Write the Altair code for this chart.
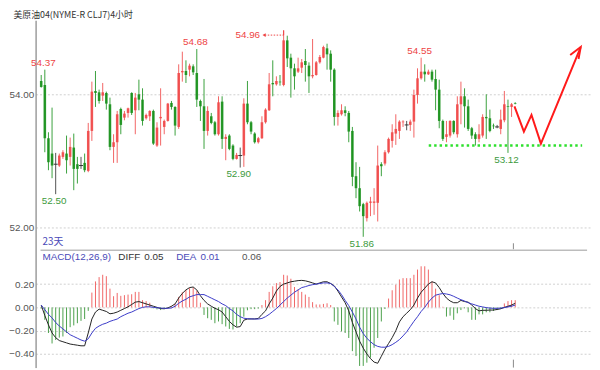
import altair as alt
import pandas as pd

# ---------------- data ----------------
opens = [54.20, 54.14, 53.34, 53.11, 52.95, 52.93, 53.06, 53.11, 53.06, 53.20,
         52.95, 52.93, 52.97, 52.85, 53.45, 54.05, 54.03, 53.98, 54.02, 53.85,
         53.21, 53.28, 53.78, 53.65, 53.72, 54.02, 53.76, 54.00, 53.92, 53.64,
         53.67, 53.75, 53.23, 53.64, 53.51, 53.60, 53.87, 53.81, 53.51, 54.33,
         54.35, 54.37, 54.42, 54.32, 53.90, 53.82, 53.45, 53.67, 53.58, 53.40,
         53.89, 53.33, 53.38, 53.23, 53.03, 53.08, 53.08, 53.86, 53.58, 53.41,
         53.28, 53.34, 53.58, 53.76, 54.17, 54.15, 54.19, 54.14, 54.81, 54.55,
         54.39, 54.34, 54.40, 54.50, 54.43, 54.27, 54.29, 54.48, 54.55, 54.69,
         54.61, 54.37, 53.66, 53.70, 53.76, 53.72, 53.45, 52.77, 52.59, 52.35,
         52.14, 52.37, 52.37, 52.37, 52.95, 52.96, 53.13, 53.30, 53.41, 53.45,
         53.58, 53.54, 53.54, 53.59, 53.99, 54.24, 54.34, 54.30, 54.34, 54.23,
         54.07, 53.60, 53.36, 53.38, 53.60, 53.40, 53.85, 53.97, 53.82, 53.49,
         53.40, 53.33, 53.38, 53.66, 53.64, 53.53, 53.51, 53.48, 53.61, 53.82,
         53.81, 53.87]
highs = [54.29, 54.37, 53.43, 53.80, 53.12, 53.11, 53.16, 53.38, 53.35, 53.41,
         53.06, 53.06, 53.11, 53.57, 54.19, 54.35, 54.07, 54.17, 54.04, 53.95,
         53.40, 53.75, 53.80, 53.75, 53.80, 54.03, 54.02, 54.22, 54.09, 53.71,
         53.76, 53.77, 53.58, 54.09, 53.62, 53.87, 53.90, 53.82, 54.45, 54.64,
         54.51, 54.46, 54.45, 54.68, 53.92, 54.23, 53.82, 53.72, 53.60, 53.97,
         53.97, 53.40, 53.40, 53.25, 53.12, 53.20, 53.94, 54.20, 53.60, 53.43,
         53.36, 53.67, 53.79, 54.32, 54.51, 54.27, 54.29, 54.96, 54.88, 54.61,
         54.46, 54.55, 54.53, 54.68, 54.48, 54.83, 54.50, 54.59, 54.73, 54.76,
         54.66, 54.39, 53.76, 53.85, 53.82, 53.75, 53.51, 52.98, 52.91, 52.37,
         52.39, 52.46, 52.59, 53.23, 52.98, 53.16, 53.35, 53.55, 53.70, 53.61,
         53.61, 53.60, 53.62, 54.07, 54.39, 54.55, 54.45, 54.37, 54.37, 54.37,
         54.22, 53.62, 53.60, 53.61, 53.61, 53.97, 54.19, 54.09, 53.92, 53.51,
         53.43, 53.55, 53.70, 54.00, 53.77, 53.56, 53.54, 53.77, 54.05, 53.92,
         53.87, 53.88]
lows = [54.10, 53.13, 52.86, 52.74, 52.50, 52.91, 53.03, 52.81, 52.93, 52.56,
        52.66, 52.88, 52.83, 52.83, 53.30, 53.81, 53.86, 53.90, 53.77, 53.16,
        52.97, 52.97, 53.40, 53.61, 53.65, 53.69, 53.40, 53.76, 53.53, 53.62,
        53.60, 53.24, 53.21, 53.23, 53.40, 53.59, 53.77, 53.38, 53.48, 54.19,
        54.17, 54.27, 54.29, 53.81, 53.60, 53.18, 53.38, 53.55, 53.38, 53.38,
        53.18, 53.01, 53.16, 53.01, 53.02, 52.90, 52.91, 53.55, 53.40, 53.26,
        53.26, 53.33, 53.56, 53.75, 53.97, 54.13, 54.13, 54.12, 54.41, 53.95,
        54.07, 54.32, 54.32, 54.19, 54.02, 54.24, 54.28, 54.46, 54.54, 54.37,
        54.19, 53.53, 53.53, 53.68, 53.67, 53.28, 52.62, 52.44, 52.24, 51.86,
        52.09, 52.17, 52.19, 52.09, 52.77, 52.93, 53.11, 53.20, 53.24, 53.33,
        53.51, 53.46, 53.45, 53.35, 53.86, 54.22, 54.19, 54.29, 54.19, 53.76,
        53.49, 53.30, 53.28, 53.35, 53.40, 53.35, 53.55, 53.50, 53.45, 53.33,
        53.23, 53.28, 53.35, 53.33, 53.43, 53.48, 53.49, 53.40, 53.58, 53.12,
        53.66, 53.85]
closes = [54.11, 53.34, 52.98, 52.93, 52.95, 53.08, 53.13, 53.01, 53.21, 52.88,
          52.88, 52.93, 52.86, 53.45, 54.04, 54.02, 53.90, 54.03, 53.86, 53.21,
          53.28, 53.70, 53.54, 53.71, 53.79, 53.72, 53.95, 53.92, 53.60, 53.69,
          53.75, 53.26, 53.50, 53.66, 53.60, 53.86, 53.81, 53.53, 54.32, 54.35,
          54.29, 54.43, 54.33, 53.92, 53.82, 53.45, 53.75, 53.57, 53.40, 53.88,
          53.33, 53.36, 53.18, 53.03, 53.09, 53.08, 53.86, 53.58, 53.44, 53.28,
          53.34, 53.58, 53.77, 54.15, 54.15, 54.20, 54.18, 54.81, 54.54, 54.39,
          54.27, 54.39, 54.48, 54.44, 54.27, 54.29, 54.48, 54.56, 54.71, 54.60,
          54.37, 53.66, 53.72, 53.76, 53.72, 53.44, 52.76, 52.59, 52.32, 52.17,
          52.37, 52.39, 52.39, 52.93, 52.92, 53.13, 53.33, 53.43, 53.48, 53.59,
          53.59, 53.54, 53.59, 53.99, 54.24, 54.34, 54.30, 54.34, 54.22, 54.07,
          53.60, 53.33, 53.40, 53.60, 53.43, 53.85, 53.97, 53.82, 53.48, 53.38,
          53.33, 53.40, 53.66, 53.64, 53.45, 53.52, 53.51, 53.62, 53.85, 53.81,
          53.85, 53.86]

macd_hist = [-0.01, -0.107, -0.22, -0.31, -0.28, -0.26, -0.25, -0.22, -0.17, -0.155,
             -0.136, -0.116, -0.10, -0.03, 0.127, 0.223, 0.26, 0.28, 0.268, 0.161,
             0.096, 0.124, 0.099, 0.105, 0.11, 0.113, 0.133, 0.133, 0.062, 0.054,
             0.04, -0.008, -0.017, -0.023, -0.014, -0.003, 0.01, 0.03, 0.09, 0.13,
             0.15, 0.165, 0.17, 0.14, 0.04, -0.065, -0.093, -0.107, -0.136, -0.121,
             -0.144, -0.164, -0.185, -0.19, -0.165, -0.136, -0.08, -0.025, -0.015, -0.015,
             -0.01, 0.02, 0.062, 0.133, 0.181, 0.209, 0.218, 0.28, 0.274, 0.246,
             0.175, 0.155, 0.133, 0.11,
             0.09, 0.045, 0.025, 0.025, 0.03, 0.035, 0.02,
             -0.121, -0.15, -0.206, -0.22, -0.263, -0.376, -0.418, -0.503, -0.503, -0.475,
             -0.432, -0.347, -0.263, -0.121, -0.014, 0.076, 0.147, 0.195, 0.24, 0.251,
             0.251, 0.251, 0.28, 0.325, 0.353, 0.353, 0.325, 0.223, 0.161, 0.105,
             0.005, -0.079, -0.071, -0.107, -0.051, -0.023, -0.008, -0.042, -0.107, -0.107,
             -0.06, -0.06, -0.042, -0.042, -0.031, -0.023, -0.014, 0.034, 0.054, 0.062, 0.062]
diff_line = [0.02, -0.07, -0.15, -0.22, -0.26, -0.285, -0.295, -0.305, -0.315, -0.32,
             -0.325, -0.33, -0.33, -0.22, -0.1, -0.04, -0.015, -0.025, -0.035, -0.055,
             -0.05, -0.04, -0.025, -0.01, 0.005, 0.025, 0.045, 0.05, 0.04, 0.03,
             0.02, 0.01, 0.0, -0.01, -0.012, -0.005, 0.01, 0.03, 0.08, 0.12,
             0.15, 0.17, 0.175, 0.15, 0.1, 0.06, 0.03, 0.01, -0.008, -0.02,
             -0.04, -0.08, -0.12, -0.15, -0.17, -0.165, -0.11, -0.1, -0.099, -0.099,
             -0.095, -0.06, -0.03, 0.03, 0.08, 0.14, 0.18, 0.2, 0.21, 0.22,
             0.225, 0.23, 0.232, 0.228,
             0.22, 0.21, 0.2, 0.21, 0.22, 0.22, 0.205,
             0.185, 0.14, 0.09, 0.04, -0.03, -0.13, -0.21, -0.29, -0.35, -0.4,
             -0.44, -0.47, -0.48, -0.42, -0.36, -0.31, -0.26, -0.2, -0.125, -0.08,
             -0.05, -0.02, 0.02, 0.08, 0.13, 0.165, 0.2, 0.22, 0.21, 0.17,
             0.12, 0.08, 0.055, 0.04, 0.04, 0.06, 0.05, 0.045, 0.02, -0.01,
             -0.03, -0.025, -0.025, -0.023, -0.023, -0.018, -0.012, 0.0, 0.01, 0.02, 0.035]
dea_line = [0.02, -0.02, -0.06, -0.09, -0.13, -0.16, -0.185, -0.21, -0.235, -0.25,
            -0.265, -0.28, -0.29, -0.27, -0.22, -0.18, -0.16, -0.145, -0.135, -0.12,
            -0.11, -0.1, -0.08, -0.065, -0.05, -0.04, -0.025, -0.01, 0.0, 0.005,
            0.005, 0.0, -0.003, -0.006, -0.008, -0.008, -0.005, 0.01, 0.035, 0.055,
            0.07, 0.09, 0.1, 0.11, 0.11, 0.11, 0.095, 0.08, 0.065, 0.05,
            0.03, 0.015, -0.01, -0.03, -0.06, -0.08, -0.093, -0.097, -0.099, -0.1,
            -0.1, -0.095, -0.08, -0.06, -0.035, -0.01, 0.02, 0.05, 0.08, 0.105,
            0.13, 0.15, 0.17, 0.178,
            0.188, 0.195, 0.2, 0.205, 0.21, 0.21, 0.205,
            0.18, 0.15, 0.11, 0.06, 0.015, -0.04, -0.1, -0.17, -0.225, -0.265,
            -0.295, -0.32, -0.335, -0.342, -0.342, -0.335, -0.32, -0.3, -0.277, -0.245,
            -0.21, -0.165, -0.12, -0.08, -0.035, 0.0, 0.045, 0.08, 0.105, 0.113,
            0.119, 0.115, 0.108, 0.095, 0.08, 0.066, 0.055, 0.04, 0.03, 0.02,
            0.01, 0.004, -0.002, -0.006, -0.008, -0.008, -0.006, -0.002, 0.004, 0.01, 0.02]

# price labels: (text, candle index, price, high/low)
label_text = ["54.37", "54.68", "54.55", "52.50", "52.90", "51.86", "53.12"]
label_idx = [1, 43, 105, 4, 55, 89, 129]
label_price = [54.37, 54.68, 54.55, 52.50, 52.90, 51.86, 53.12]
label_kind = ["hi", "hi", "hi", "lo", "lo", "lo", "lo"]

# hand-drawn forecast path (index, price)
path_idx = [130.8, 133.4, 135.5, 138.1, 149.1]
path_price = [53.82, 53.44, 53.69, 53.26, 54.71]
head_idx = [146.2, 149.1, 148.5]
head_price = [54.59, 54.71, 54.53]
support_idx = [107.1, 149.5]
support_price = [53.23, 53.23]

price_ticks = [52, 54]
macd_ticks = [-0.4, -0.2, 0, 0.2]

macd_legend_text = ["MACD(12,26,9)", "DIFF", "0.05", "DEA", "0.01", "0.06"]
macd_legend_idx = [0.34, 21.3, 28.5, 37.3, 44.0, 55.5]
macd_legend_color = ["#4a4ab8", "#333333", "#333333", "#4a4ab8", "#4a4ab8", "#555555"]

TITLE = "美原油04(NYME-R CLJ7)4小时"

# ---------------- frames ----------------
n = len(opens)
UP, DOWN, FLAT = "#f04848", "#17901a", "#333333"
candles = pd.DataFrame({"i": list(range(n)), "open": opens, "high": highs,
                        "low": lows, "close": closes})
candles["col"] = [UP if c > o else (DOWN if c < o else FLAT) for o, c in zip(opens, closes)]
candles["flat"] = [o == c for o, c in zip(opens, closes)]

macd = pd.DataFrame({"i": list(range(n)), "hist": macd_hist, "diff": diff_line, "dea": dea_line})
macd["col"] = ["#f06666" if h >= 0 else "#4a9f4a" for h in macd_hist]

labels = pd.DataFrame({"t": label_text, "i": label_idx, "p": label_price, "k": label_kind})
path = pd.DataFrame({"i": path_idx + head_idx, "p": path_price + head_price,
                     "g": ["a"] * len(path_idx) + ["b"] * len(head_idx),
                     "o": list(range(len(path_idx))) + list(range(len(head_idx)))})
support = pd.DataFrame({"i": support_idx, "p": support_price})
mleg = pd.DataFrame({"t": macd_legend_text, "i": macd_legend_idx, "c": macd_legend_color})

X_DOM = [-0.18, 150.86]
P_DOM = [49.8963, 55.1111]
M_DOM = [-0.5169, 2.4661]
xs = alt.Scale(domain=X_DOM, nice=False, zero=False)
ps = alt.Scale(domain=P_DOM, nice=False, zero=False)
ms = alt.Scale(domain=M_DOM, nice=False, zero=False)

LBL = dict(labelColor="#555555", labelFont="Liberation Sans", labelFontSize=10, labelPadding=2)
AX = dict(ticks=False, domainColor="#9a9a9a", title=None, grid=True, gridDash=[2, 2],
          gridColor="#cfcfcf", orient="left", **LBL)

xq = alt.X("i:Q", scale=xs, axis=None)


def P(field):
    return alt.Y(field, scale=ps, axis=None)


def M(field):
    return alt.Y(field, scale=ms, axis=None)


# ---------------- price panel ----------------
wick = alt.Chart(candles).mark_rule(strokeWidth=1, opacity=0.85).encode(
    x=alt.X("i:Q", scale=xs, axis=alt.Axis(orient="top", labels=False, ticks=False, grid=False,
                                           title=None, domainColor="#9a9a9a")),
    y=alt.Y("low:Q", scale=ps, axis=alt.Axis(values=price_ticks, format=".2f", **AX)),
    y2="high:Q",
    color=alt.Color("col:N", scale=None))

body = alt.Chart(candles).mark_bar(size=2.6, opacity=0.9).encode(
    x=xq, y=P("open:Q"), y2="close:Q", color=alt.Color("col:N", scale=None))

doji = alt.Chart(candles).transform_filter("datum.flat").mark_tick(
    orient="horizontal", size=4, thickness=1, opacity=1).encode(
    x=xq, y=P("close:Q"), color=alt.Color("col:N", scale=None))

hi_lab = alt.Chart(labels).transform_filter("datum.k == 'hi'").mark_text(
    baseline="bottom", dy=-2, dx=-1.5, fontSize=10, font="Liberation Sans",
    color="#ee4444").encode(x=xq, y=P("p:Q"), text="t:N")
lo_lab = alt.Chart(labels).transform_filter("datum.k == 'lo'").mark_text(
    baseline="top", dy=2, dx=-1.5, fontSize=10, font="Liberation Sans", color="#3c9a3c").encode(
    x=xq, y=P("p:Q"), text="t:N")

max_lab = alt.Chart(pd.DataFrame({"t": ["54.96"], "i": [60.5], "p": [54.889]})).mark_text(
    align="right", baseline="middle", fontSize=10, font="Liberation Sans", color="#ee4444").encode(
    x=xq, y=P("p:Q"), text="t:N")
max_ptr = alt.Chart(pd.DataFrame({"i": [61.8], "i2": [67.0], "p": [54.889]})).mark_rule(
    color="#ee4444", strokeWidth=1, strokeDash=[1.5, 1.5]).encode(x=xq, x2="i2:Q", y=P("p:Q"))
max_vert = alt.Chart(pd.DataFrame({"i": [67.0], "p": [54.889], "p2": [54.96]})).mark_rule(
    color="#ee4444", strokeWidth=1).encode(x=xq, y=P("p:Q"), y2="p2:Q")
max_head = alt.Chart(pd.DataFrame({"i": [61.6], "p": [54.889]})).mark_point(
    shape="triangle-left", size=14, filled=True, color="#ee4444", opacity=1).encode(
    x=xq, y=P("p:Q"))

sup = alt.Chart(support).mark_line(color="#2ee02e", strokeWidth=2.5, strokeDash=[2.5, 3]).encode(
    x=xq, y=P("p:Q"))
arrow = alt.Chart(path).mark_line(color="#ff1a1a", strokeWidth=2).encode(
    x=xq, y=P("p:Q"), detail="g:N", order="o:Q")

sep = alt.Chart(pd.DataFrame({"i": [X_DOM[0]], "i2": [X_DOM[1]], "p": [51.659]})).mark_rule(
    color="#9a9a9a", strokeWidth=1).encode(x=xq, x2="i2:Q", y=P("p:Q"))
cur_tick = alt.Chart(pd.DataFrame({"i": [130.5], "p": [51.674], "p2": [51.763]})).mark_rule(
    color="#888888", strokeWidth=1).encode(x=xq, y=P("p:Q"), y2="p2:Q")

days = alt.Chart(pd.DataFrame({"t": ["23天"], "i": [0.34], "p": [51.778]})).mark_text(
    align="left", baseline="middle", fontSize=10, font="Noto Sans CJK SC", color="#4a4ab8").encode(
    x=xq, y=P("p:Q"), text="t:N")
title = alt.Chart(pd.DataFrame({"t": [TITLE], "i": [-7.68], "p": [55.2519]})).mark_text(
    align="left", baseline="top", fontSize=9, font="Noto Sans CJK SC", color="#333333").encode(
    x=xq, y=P("p:Q"), text="t:N")

# ---------------- MACD panel ----------------
hist_bars = alt.Chart(macd).mark_rule(strokeWidth=1).encode(
    x=xq,
    y=alt.Y("hist:Q", scale=ms, axis=alt.Axis(values=macd_ticks, format=".2f", **AX)),
    y2=alt.datum(0),
    color=alt.Color("col:N", scale=None))
diff_l = alt.Chart(macd).mark_line(color="#222222", strokeWidth=1).encode(x=xq, y=M("diff:Q"))
dea_l = alt.Chart(macd).mark_line(color="#3a3ac8", strokeWidth=1).encode(x=xq, y=M("dea:Q"))
leg = alt.Chart(mleg).transform_calculate(m="0.432").mark_text(
    align="left", baseline="middle", fontSize=10, font="Liberation Sans").encode(
    x=xq, y=M("m:Q"), text="t:N", color=alt.Color("c:N", scale=None))
cur_tick2 = alt.Chart(pd.DataFrame({"i": [130.5], "m": [-0.517], "m2": [-0.449]})).mark_rule(
    color="#888888", strokeWidth=1).encode(x=xq, y=M("m:Q"), y2="m2:Q")

chart = alt.layer(
    wick, body, doji, hi_lab, lo_lab, max_lab, max_ptr, max_vert, max_head,
    sup, arrow, sep, cur_tick, days, title,
    hist_bars, diff_l, dea_l, leg, cur_tick2,
).resolve_scale(y="independent").resolve_axis(y="independent").properties(
    width=564, height=352,
    padding={"left": 28, "top": 10, "right": 0, "bottom": 0},
    autosize=alt.AutoSizeParams(type="none"),
    background="white",
).configure_view(stroke=None)

chart.save("out.html", embed_options={"renderer": "svg", "actions": False})
